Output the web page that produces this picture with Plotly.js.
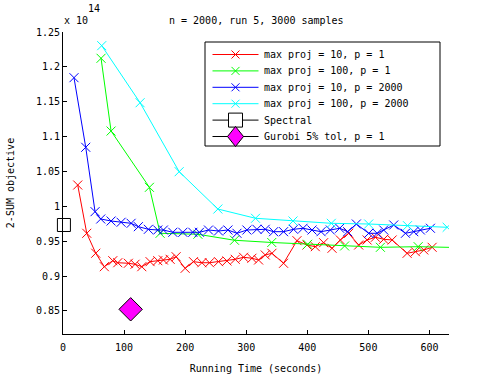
<!DOCTYPE html>
<html>
<head>
<meta charset="utf-8">
<script src="https://cdn.plot.ly/plotly-3.0.1.min.js"></script>
<style>html,body{margin:0;padding:0;background:#fff;}#chart{width:495px;height:375px;}</style>
</head>
<body>
<div id="chart"></div>
<script>
// values in units of 1e14
const redX = [24.1,38.9,53.6,67.7,81.5,89.7,107,118,129,142.6,155.2,164.4,175.4,185.2,200,213.6,227.4,239.8,254.6,268.4,282,295.6,309.3,320.2,331.1,342.1,361.1,383.1,399.5,413.1,426.7,440.5,454.1,467.7,484.1,497.9,511.5,525.1,538.9,563.4,577,590.7,604.4];
const redY = [1.0306,0.9614,0.9328,0.9135,0.9221,0.9192,0.9184,0.9170,0.9135,0.9207,0.9221,0.9231,0.9241,0.9278,0.9112,0.9207,0.9192,0.9192,0.9207,0.9217,0.9241,0.9270,0.9256,0.9231,0.9303,0.9327,0.9184,0.9508,0.9446,0.9422,0.9479,0.9399,0.9518,0.9614,0.9446,0.9518,0.9557,0.9528,0.9518,0.9327,0.9350,0.9375,0.9413];
const greenX = [62.3,78.7,141.5,159,220.8,280.8,341.8,400.5,461.1,519.7,581.5,645];
const greenY = [1.2123,1.108,1.0273,0.9614,0.960,0.9514,0.9482,0.9456,0.9432,0.9413,0.9422,0.941];
const blueX = [18,37.2,52.5,61.8,78.7,95.1,111.5,123.4,139.8,155.2,164.4,179.8,196.2,212.6,223.4,238.2,254.6,270,284.8,301.1,317.5,331.1,344.8,361.1,377.5,393,407.7,422.5,437.7,453,466.1,480.3,500.5,514.3,525.1,541.5,560.7,574.3,585.2,601.6];
const blueY = [1.1845,1.0847,0.9924,0.9819,0.979,0.9772,0.9757,0.9709,0.9671,0.9661,0.9661,0.9628,0.9628,0.9628,0.9628,0.9661,0.9647,0.9661,0.9614,0.9661,0.9671,0.9671,0.9637,0.9637,0.9671,0.9686,0.9661,0.9637,0.9661,0.9686,0.9637,0.9747,0.9614,0.9614,0.9661,0.9733,0.9614,0.9637,0.9661,0.9686];
const cyanX = [63.4,126.2,190.2,253.6,315.2,376.6,439.3,500.5,564,629];
const cyanY = [1.2304,1.1486,1.0497,0.9962,0.9829,0.979,0.9757,0.9747,0.9723,0.970];
const spectralX = [1.5];
const spectralY = [0.9733];
const gurobiX = [110.8];
const gurobiY = [0.8524];
const names = ['max proj = 10, p = 1','max proj = 100, p = 1','max proj = 10, p = 2000','max proj = 100, p = 2000','Spectral','Gurobi 5% tol, p = 1'];
const colors = ['#ff0000','#00ff00','#0000ff','#00ffff','#000000','#000000'];
const yTicks = [0.85,0.9,0.95,1,1.05,1.1,1.15,1.2,1.25];
const yTickText = ['0.85','0.9','0.95','1','1.05','1.1','1.15','1.2','1.25'];
const xTicks = [0,100,200,300,400,500,600];

const FONT = 'DejaVu Sans Mono';
// plot-area geometry (pixels) used for the hand-drawn legend
const PL = 63, PR = 449, PT = 32, PB = 334;
const PX = p => (p - PL) / (PR - PL);
const PY = p => (PB - p) / (PB - PT);

function xs(x, y, color, name) {
  return {x: x, y: y, name: name, type: 'scatter', mode: 'lines+markers', showlegend: false,
    line: {color: color, width: 1},
    marker: {symbol: 'x-thin-open', size: 9, color: color, line: {color: color, width: 1}},
    cliponaxis: true};
}
const data = [
  xs(redX, redY, colors[0], names[0]),
  xs(greenX, greenY, colors[1], names[1]),
  xs(blueX, blueY, colors[2], names[2]),
  xs(cyanX, cyanY, colors[3], names[3]),
  {x: spectralX, y: spectralY, name: names[4], type: 'scatter', mode: 'lines+markers', showlegend: false,
   line: {color: '#000', width: 1},
   marker: {symbol: 'square', size: 13, color: '#fff', line: {color: '#000', width: 1}}, cliponaxis: false},
  {x: gurobiX, y: gurobiY, name: names[5], type: 'scatter', mode: 'lines+markers', showlegend: false,
   line: {color: '#000', width: 1},
   marker: {symbol: 'diamond', size: 18, color: '#ff00ff', line: {color: '#000', width: 1}}, cliponaxis: false}
];

// legend (drawn with shapes + annotations)
const LB = {l: 205, r: 440, t: 42, b: 146};
const rowY = i => 54.5 + 16.4 * i;
const shapes = [{type: 'rect', xref: 'paper', yref: 'paper', x0: PX(LB.l), x1: PX(LB.r), y0: PY(LB.b), y1: PY(LB.t),
  line: {color: '#000', width: 1}, fillcolor: '#fff', layer: 'above'}];
const annotations = [];
names.forEach((nm, i) => {
  const y = rowY(i), c = colors[i], cx = 235.5;
  shapes.push({type: 'line', xref: 'paper', yref: 'paper', x0: PX(212.5), x1: PX(258.5), y0: PY(y), y1: PY(y),
    line: {color: c, width: 1}, layer: 'above'});
  if (i < 4) {
    const h = 4;
    shapes.push({type: 'line', xref: 'paper', yref: 'paper', x0: PX(cx - h), x1: PX(cx + h), y0: PY(y - h), y1: PY(y + h), line: {color: c, width: 1}, layer: 'above'});
    shapes.push({type: 'line', xref: 'paper', yref: 'paper', x0: PX(cx - h), x1: PX(cx + h), y0: PY(y + h), y1: PY(y - h), line: {color: c, width: 1}, layer: 'above'});
  } else if (i === 4) {
    shapes.push({type: 'rect', xref: 'paper', yref: 'paper', x0: PX(cx - 7), x1: PX(cx + 7), y0: PY(y + 7), y1: PY(y - 7), line: {color: '#000', width: 1}, fillcolor: '#fff', layer: 'above'});
  } else {
    const w = PX(cx + 8) - PX(cx), hh = PY(y - 10) - PY(y);
    const x0 = PX(cx), y0 = PY(y);
    shapes.push({type: 'path', xref: 'paper', yref: 'paper',
      path: `M ${x0 - w} ${y0} L ${x0} ${y0 + hh} L ${x0 + w} ${y0} L ${x0} ${y0 - hh} Z`,
      line: {color: '#000', width: 1}, fillcolor: '#ff00ff', layer: 'above'});
  }
  annotations.push({text: nm, xref: 'paper', yref: 'paper', x: PX(262), y: PY(y), xanchor: 'left', yanchor: 'middle',
    showarrow: false, font: {family: FONT, size: 10, color: '#000'}});
});
annotations.push(
  {text: 'n = 2000, run 5, 3000 samples', xref: 'paper', yref: 'paper', x: 0.5, y: PY(21),
   xanchor: 'center', yanchor: 'middle', showarrow: false, font: {family: FONT, size: 10, color: '#000'}},
  {text: 'x 10', xref: 'paper', yref: 'paper', x: PX(62), y: PY(20), xanchor: 'left', yanchor: 'middle',
   showarrow: false, font: {family: FONT, size: 10, color: '#000'}},
  {text: '14', xref: 'paper', yref: 'paper', x: PX(86), y: PY(8), xanchor: 'left', yanchor: 'middle',
   showarrow: false, font: {family: FONT, size: 10, color: '#000'}}
);

const layout = {
  width: 495, height: 375,
  margin: {l: PL, r: 495 - PR, t: PT, b: 375 - PB},
  paper_bgcolor: '#fff', plot_bgcolor: '#fff',
  font: {family: FONT, size: 10, color: '#000'},
  showlegend: false,
  xaxis: {range: [0, 632], tickvals: xTicks, ticks: 'inside', ticklen: 4, tickcolor: '#000',
    showline: true, linecolor: '#000', linewidth: 1, showgrid: false, zeroline: false, mirror: false,
    ticklabelstandoff: 4,
    tickfont: {family: FONT, size: 10, color: '#000'},
    title: {text: 'Running Time (seconds)', font: {family: FONT, size: 10, color: '#000'}, standoff: 12}},
  yaxis: {range: [0.817, 1.25], tickvals: yTicks, ticktext: yTickText, ticks: 'inside', ticklen: 4, tickcolor: '#000',
    showline: true, linecolor: '#000', linewidth: 1, showgrid: false, zeroline: false, mirror: false,
    tickfont: {family: FONT, size: 10, color: '#000'},
    title: {text: '2-SUM objective', font: {family: FONT, size: 10, color: '#000'}, standoff: 19}},
  shapes: shapes,
  annotations: annotations
};
Plotly.newPlot('chart', data, layout, {staticPlot: true, displayModeBar: false});
</script>
</body>
</html>
